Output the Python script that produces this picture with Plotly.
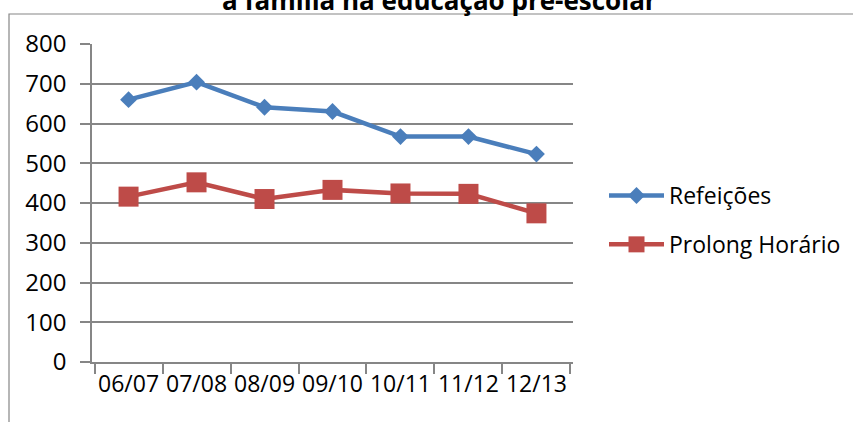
"""
Gráfico de linhas: refeições e prolongamento de horário na educação pré-escolar
"""

import plotly.graph_objects as go

# --- DADOS ---
ANOS = ['06/07', '07/08', '08/09', '09/10', '10/11', '11/12', '12/13']
REFEICOES = [660, 704, 641, 630, 567, 567, 523]
PROLONG_HORARIO = [416, 452, 410, 433, 424, 423, 374]

TITULO = 'a família na educação pré-escolar'

# --- ESTILO ---
FONTE = 'Open Sans'
AZUL = '#4A7EBB'
VERMELHO = '#BE4B48'
CINZA = '#868686'

W, H = 853, 422
MARGEM = dict(l=92, r=280, t=44, b=60)
plot_w = W - MARGEM['l'] - MARGEM['r']
plot_h = H - MARGEM['t'] - MARGEM['b']


def px_to_paper_x(px):
    return (px - MARGEM['l']) / plot_w


def px_to_paper_y(py):
    return (H - MARGEM['b'] - py) / plot_h


fig = go.Figure()

fig.add_trace(go.Scatter(
    x=ANOS, y=REFEICOES, name='Refeições', mode='lines+markers',
    line=dict(color=AZUL, width=4.5),
    marker=dict(symbol='diamond', size=13, color=AZUL),
    legendgroup='a',
))
fig.add_trace(go.Scatter(
    x=ANOS, y=PROLONG_HORARIO, name='Prolong Horário', mode='lines+markers',
    line=dict(color=VERMELHO, width=4.5),
    marker=dict(symbol='square', size=20, color=VERMELHO),
    legendgroup='b',
))

# moldura do gráfico (parcialmente fora da imagem)
fig.add_shape(
    type='rect', xref='paper', yref='paper',
    x0=px_to_paper_x(9), x1=px_to_paper_x(W + 20),
    y0=px_to_paper_y(H + 20), y1=px_to_paper_y(14),
    line=dict(color=CINZA, width=1.2), layer='below',
)

# título cortado no topo, como no original
fig.add_annotation(
    text=f'<b>{TITULO}</b>', xref='paper', yref='paper',
    x=px_to_paper_x(439), y=px_to_paper_y(0),
    xanchor='center', yanchor='middle', showarrow=False,
    font=dict(family=FONTE, size=26, color='#000000'),
)

fig.update_layout(
    width=W, height=H,
    margin=MARGEM,
    paper_bgcolor='white', plot_bgcolor='white',
    font=dict(family=FONTE, size=23, color='#000000'),
    showlegend=True,
    legend=dict(
        xref='container', yref='container',
        x=604 / W, y=1 - 220 / H,
        xanchor='left', yanchor='middle',
        itemwidth=55, tracegroupgap=16,
        font=dict(family=FONTE, size=23, color='#000000'),
        bgcolor='rgba(0,0,0,0)',
    ),
)

fig.update_xaxes(
    type='category', tickson='boundaries', tickangle=0, automargin=False,
    ticks='outside', ticklen=10, tickcolor=CINZA, tickwidth=1.5,
    showline=True, linecolor=CINZA, linewidth=1.5,
    showgrid=False, zeroline=False,
    ticklabelstandoff=1,
    tickfont=dict(family=FONTE, size=23),
)
fig.update_yaxes(
    range=[0, 800], dtick=100, automargin=False,
    ticks='outside', ticklen=10, tickcolor=CINZA, tickwidth=1.5,
    showline=True, linecolor=CINZA, linewidth=1.5,
    showgrid=True, gridcolor=CINZA, gridwidth=1.5,
    zeroline=False,
    ticklabelstandoff=9,
    tickfont=dict(family=FONTE, size=24),
)

# a página não deve ter margem, para o gráfico ocupar a janela toda
fig.write_html(
    'out.html',
    config={'displayModeBar': False},
    post_script="document.body.style.margin='0';",
)
